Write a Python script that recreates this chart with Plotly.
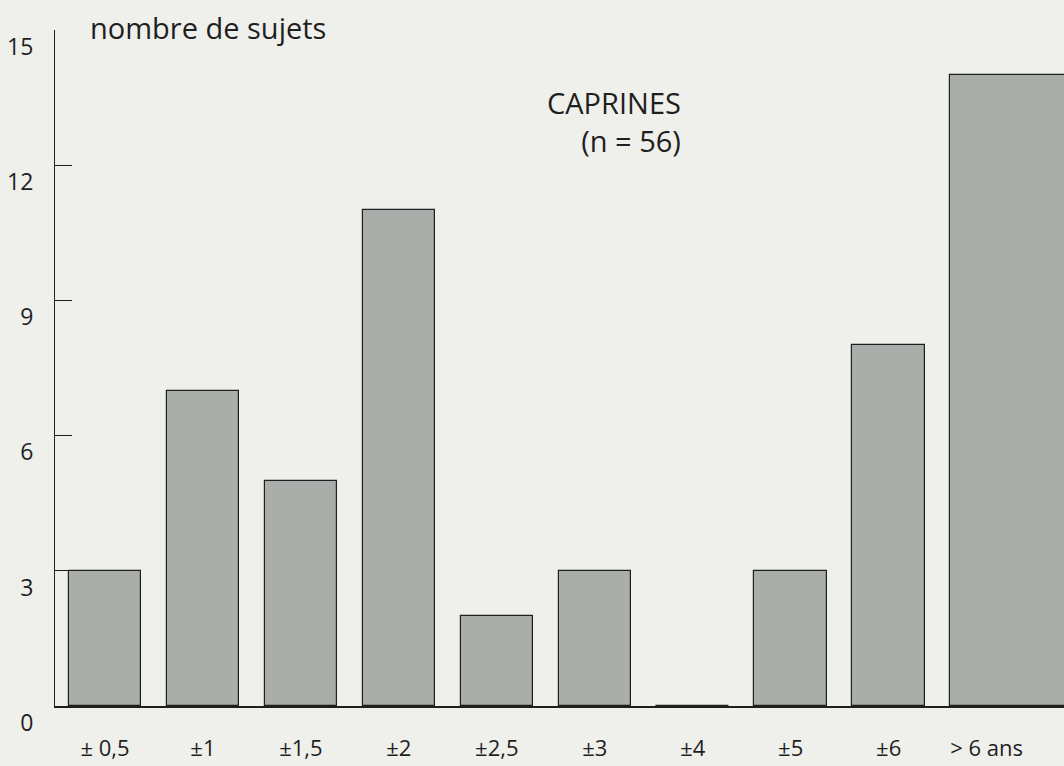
import plotly.graph_objects as go

# classes d'âge (axe x) et nombre de sujets
age_classes = ["± 0,5", "±1", "±1,5", "±2", "±2,5", "±3", "±4", "±5", "±6", "> 6 ans"]
nb_sujets = [3, 7, 5, 11, 2, 3, 0, 3, 8, 14]
y_ticks = [0, 3, 6, 9, 12, 15]

titre = "CAPRINES<br>(n = 56)"
titre_axe = "nombre de sujets"

fond = "#efefec"
encre = "#1f1f1f"
font_family = "Open Sans, Noto Sans, sans-serif"

# la dernière barre déborde du cadre dans l'original
largeurs = [0.74] * (len(age_classes) - 1) + [1.4]

fig = go.Figure()
fig.add_trace(go.Bar(
    x=list(range(len(age_classes))),
    y=nb_sujets,
    width=largeurs,
    offset=-0.37,
    marker=dict(color="#a9aeaa", line=dict(color=encre, width=1.2)),
    hoverinfo="x+y",
))

fig.update_layout(
    width=1064,
    height=766,
    margin=dict(l=55, r=0, t=30, b=60),
    paper_bgcolor=fond,
    plot_bgcolor=fond,
    showlegend=False,
    font=dict(family=font_family, color=encre, size=22),
    bargap=0,
    xaxis=dict(
        range=[-0.51, 9.79],
        tickmode="array",
        tickvals=list(range(len(age_classes))),
        ticktext=age_classes,
        showgrid=False,
        zeroline=False,
        showline=True,
        linecolor=encre,
        linewidth=1.5,
        ticks="",
        ticklabelstandoff=22,
        tickfont=dict(size=22),
        automargin=False,
    ),
    yaxis=dict(
        range=[0, 15],
        tickmode="array",
        tickvals=y_ticks,
        showgrid=False,
        zeroline=False,
        showline=True,
        linecolor=encre,
        linewidth=1.2,
        ticks="inside",
        ticklen=17,
        tickwidth=1.2,
        tickcolor=encre,
        ticklabelposition="outside bottom",
        ticklabelstandoff=16,
        tickfont=dict(size=23),
        automargin=False,
    ),
)

fig.add_annotation(
    text=titre_axe, xref="paper", yref="y", x=0.033, y=15,
    xanchor="left", yanchor="middle", yshift=3, showarrow=False,
    font=dict(size=29, color=encre),
)
fig.add_annotation(
    text=titre, xref="paper", yref="paper", x=0.622, y=0.925,
    xanchor="right", yanchor="top", align="right", showarrow=False,
    font=dict(size=29, color=encre),
)

# la page html a une marge par défaut de 8px, on l'enlève
fig.write_html(
    "out.html",
    config={"displayModeBar": False},
    post_script="document.body.style.margin='0';",
)
